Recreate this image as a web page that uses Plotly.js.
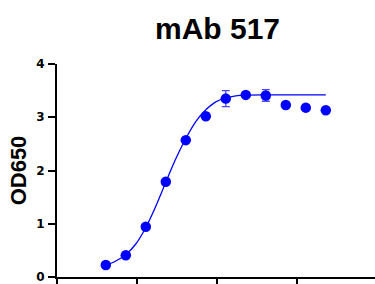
<!DOCTYPE html>
<html><head><meta charset="utf-8">
<script src="https://cdn.plot.ly/plotly-3.0.1.min.js"></script>
<style>html,body{margin:0;padding:0;background:#fff}#chart{width:375px;height:284px}</style>
</head><body><div id="chart"></div>
<script>
// log10 concentration (x) and OD650 readings
const logConc = [-2.39,-2.14,-1.89,-1.64,-1.39,-1.14,-0.89,-0.64,-0.39,-0.14,0.11,0.36];
const od650   = [0.225,0.41,0.945,1.79,2.57,3.02,3.35,3.42,3.41,3.23,3.18,3.13];
const sdErr   = [0,0,0,0,0,0,0.15,0,0.11,0,0,0];
// fitted curve
const fitX = [-2.39,-2.265,-2.14,-2.015,-1.89,-1.765,-1.64,-1.515,-1.39,-1.265,-1.14,-1.015,-0.89,-0.765,-0.64,-0.39,-0.14,0.11,0.36];
const fitY = [0.22,0.30,0.42,0.62,0.93,1.33,1.78,2.22,2.60,2.92,3.14,3.29,3.36,3.40,3.415,3.42,3.42,3.42,3.42];
const yTicks = [0,1,2,3,4];
const yTickText = ['0','1','2','3','4'];
const titleText = 'mAb 517';
const yTitle = 'OD650';

const font = 'Liberation Sans, Arial, Helvetica, sans-serif';
Plotly.newPlot('chart', [
  {x: fitX, y: fitY, mode: 'lines', line: {color: '#0000ff', width: 1.3, shape: 'spline'}, hoverinfo: 'skip'},
  {x: logConc, y: od650, mode: 'markers', marker: {color: '#0000ff', size: 10.5},
   error_y: {type: 'data', array: sdErr, visible: true, color: '#4a4aff', thickness: 1.3, width: 4}}
], {
  width: 375, height: 284,
  margin: {l: 57, r: 0, t: 64, b: 7},
  showlegend: false,
  paper_bgcolor: '#fff', plot_bgcolor: '#fff',
  title: {text: titleText, x: 0.58, xanchor: 'center', y: 0.9, yanchor: 'middle',
          font: {family: font, size: 30, color: '#000', weight: 'bold'}},
  xaxis: {range: [-3, 0.975], showgrid: false, zeroline: false, showline: true, linecolor: '#000', linewidth: 2,
          ticks: 'outside', ticklen: 8, tickwidth: 2, tickcolor: '#000', dtick: 1, tick0: -3, showticklabels: false},
  yaxis: {range: [0, 4], showgrid: false, zeroline: false, showline: true, linecolor: '#000', linewidth: 2,
          ticks: 'outside', ticklen: 7, tickwidth: 2, tickcolor: '#000', tickvals: yTicks,
          ticktext: yTickText, ticklabeloverflow: 'allow', ticklabelstandoff: 1,
          tickfont: {family: 'DejaVu Sans', size: 12, color: '#000', weight: 'bold'},
          title: {text: yTitle, standoff: 4, font: {family: font, size: 22, color: '#000', weight: 'bold'}}}
}, {displayModeBar: false, staticPlot: true});
</script></body></html>
